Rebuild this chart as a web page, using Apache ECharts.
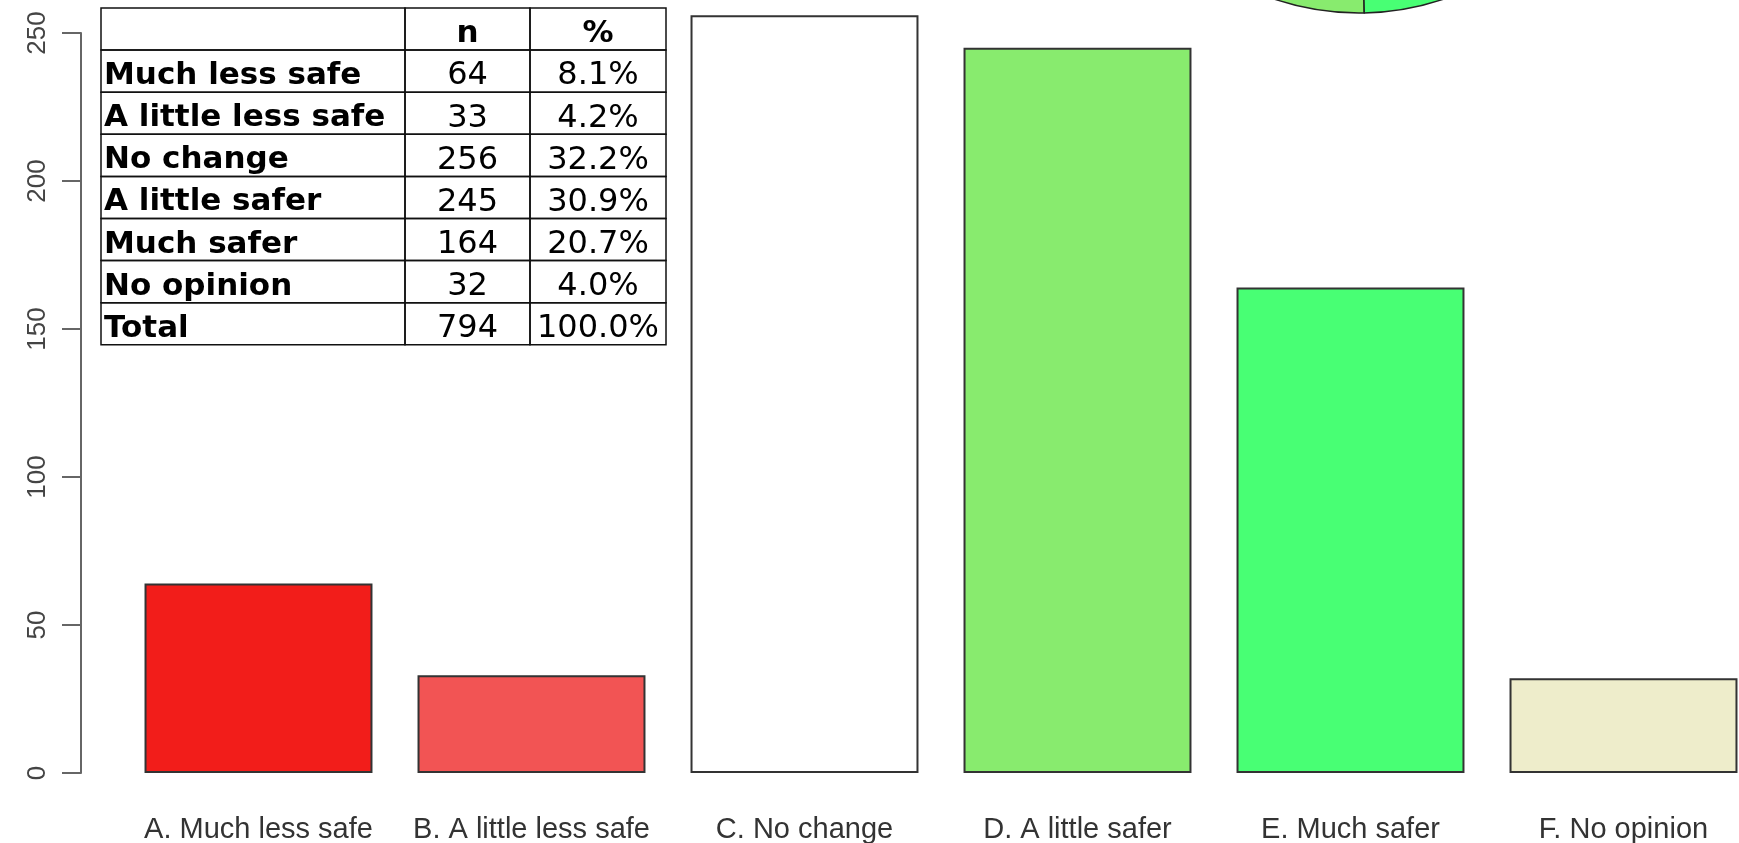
<!DOCTYPE html>
<html><head><meta charset="utf-8">
<script src="https://cdn.jsdelivr.net/npm/echarts@6/dist/echarts.min.js"></script>
<style>html,body{margin:0;padding:0;background:#fff}#c{width:1739px;height:843px}</style>
</head><body><div id="c"></div>
<script>
const categories = ['A. Much less safe','B. A little less safe','C. No change','D. A little safer','E. Much safer','F. No opinion'];
const counts = [64, 33, 256, 245, 164, 32];
const barColors = ['#F21D1A','#F25454','#FFFFFF','#88EB6E','#48FF74','#EEEDCB'];
const yTicks = [0, 50, 100, 150, 200, 250];
const tableHeader = ['', 'n', '%'];
const tableLabels = ['Much less safe','A little less safe','No change','A little safer','Much safer','No opinion','Total'];
const tableN = ['64','33','256','245','164','32','794'];
const tablePct = ['8.1%','4.2%','32.2%','30.9%','20.7%','4.0%','100.0%'];

const chart = echarts.init(document.getElementById('c'), null, {renderer: 'canvas'});

// table layout
const colEdges = [101, 405, 530, 666];
const tableTop = 8, rowH = 42.1;
const rows = [tableHeader].concat(tableLabels.map((l, i) => [l, tableN[i], tablePct[i]]));
const graphics = [];
rows.forEach((row, r) => {
  const y = tableTop + r * rowH;
  row.forEach((txt, c) => {
    const x = colEdges[c], w = colEdges[c + 1] - colEdges[c];
    graphics.push({type: 'rect', shape: {x: x, y: y, width: w, height: rowH},
      style: {fill: 'transparent', stroke: '#111', lineWidth: 1.5}, silent: true, z: 10});
    if (txt !== '') {
      const bold = (c === 0) || (r === 0);
      graphics.push({type: 'text', z: 11, silent: true,
        x: c === 0 ? x + 3 : x + w / 2, y: y + rowH / 2 + 5,
        style: {text: txt, fill: '#000', font: (bold ? 'bold 31px' : '32px') + ' "DejaVu Sans"',
          textAlign: c === 0 ? 'left' : 'center', textVerticalAlign: 'middle'}});
    }
  });
});

const option = {
  animation: false,
  backgroundColor: '#fff',
  grid: {left: 122, right: -21, top: 33, bottom: 70, containLabel: false, outerBoundsMode: 'none'},
  xAxis: {
    type: 'category', data: categories,
    axisLine: {show: false}, axisTick: {show: false}, splitLine: {show: false},
    axisLabel: {fontSize: 29, lineHeight: 30, color: '#333', margin: 42, fontFamily: 'Liberation Sans', interval: 0, hideOverlap: false}
  },
  yAxis: {
    type: 'value', min: yTicks[0], max: yTicks[yTicks.length - 1], interval: yTicks[1] - yTicks[0],
    offset: 41,
    axisLine: {show: true, lineStyle: {color: '#666', width: 2}},
    axisTick: {show: true, length: 19, lineStyle: {color: '#666', width: 2}},
    splitLine: {show: false},
    axisLabel: {rotate: 90, fontSize: 26, color: '#444', margin: 30, fontFamily: 'Liberation Sans'}
  },
  series: [
    {
      type: 'bar', clip: false, barCategoryGap: '16.5%',
      data: counts.map((v, i) => ({value: v, itemStyle: {color: barColors[i]}})),
      itemStyle: {borderColor: '#333', borderWidth: 2},
      silent: true
    },
    {
      type: 'pie', center: [1359, -252], radius: 265, startAngle: 0, clockwise: false,
      data: counts.map((v, i) => ({value: v, name: categories[i], itemStyle: {color: barColors[i]}})),
      itemStyle: {borderColor: '#222', borderWidth: 1.5},
      label: {show: false}, labelLine: {show: false}, silent: true, z: 1
    }
  ],
  graphic: graphics
};
chart.setOption(option);
</script></body></html>
